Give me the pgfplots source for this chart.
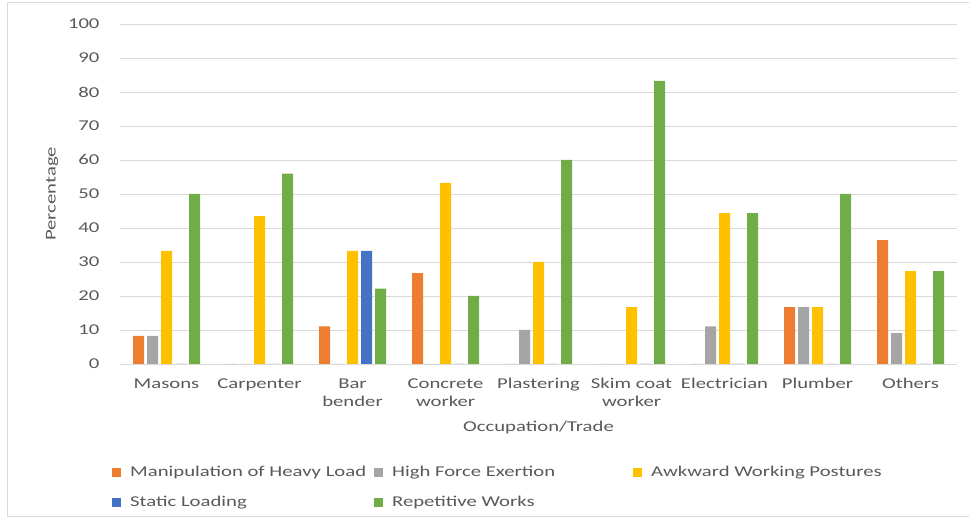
\documentclass[border=0pt]{standalone}
\usepackage{pgfplots}
\pgfplotsset{compat=1.18}
\usepackage{fontspec}
\setmainfont[FakeStretch=1.38]{Carlito}
\definecolor{cOr}{HTML}{ED7D31}
\definecolor{cGr}{HTML}{A5A5A5}
\definecolor{cYe}{HTML}{FFC000}
\definecolor{cBl}{HTML}{4472C4}
\definecolor{cGn}{HTML}{70AD47}
\definecolor{txt}{HTML}{595959}
\definecolor{grid}{HTML}{D9D9D9}
\newcommand{\fs}{\fontsize{15bp}{18bp}\selectfont}
\begin{document}
\begin{tikzpicture}[x=1bp,y=1bp]
\useasboundingbox (0,0) rectangle (969,519);
\draw[color=grid, line width=0.75bp] (990,517) -- (7,517) -- (7,3) -- (990,3);
\begin{axis}[
  at={(120bp,155bp)}, anchor=south west,
  scale only axis, width=837bp, height=340bp,
  ymin=0, ymax=100, ytick={0,10,...,100},
  xmin=-0.5, xmax=8.5, xtick={0,...,8},
  xticklabels={Masons, Carpenter, Bar\\bender, Concrete\\worker, Plastering, Skim coat\\worker, Electrician, Plumber, Others},
  ybar=3bp, bar width=11bp,
  axis x line=bottom, axis y line=left,
  x axis line style={-, color=grid, line width=0.75bp},
  y axis line style={draw=none},
  ymajorgrids, grid style={color=grid, line width=0.75bp},
  major tick length=0pt, tick style={draw=none},
  /pgf/number format/assume math mode=true,
  yticklabel style={font=\fs, text=txt, anchor=east, xshift=-17bp},
  xticklabel style={font=\fs, text=txt, align=center, anchor=north, yshift=-11bp},
  ylabel={Percentage},
  every axis y label/.style={at={(rel axis cs:0,0.5)}, xshift=-68bp, rotate=90, anchor=center, font=\fs, text=txt},
  xlabel={Occupation/Trade},
  every axis x label/.style={at={(rel axis cs:0.5,0)}, anchor=center, yshift=-64bp, font=\fs, text=txt},
  legend columns=3,
  legend style={at={(rel axis cs:-0.0096,-0.30)}, anchor=north west, draw=none, fill=none,
    font=\fs, text=txt, inner sep=0pt, row sep=18bp, column sep=0pt,
    nodes={inner sep=0pt, anchor=west}},
  legend cell align=left,
]
\addplot+[draw=none, fill=cOr, legend image code/.code={\fill[cOr] (0,-4.5bp) rectangle (9bp,4.5bp);}]
  coordinates {(0,8.3) (1,0) (2,11.1) (3,26.7) (4,0) (5,0) (6,0) (7,16.7) (8,36.4)};
\addplot+[draw=none, fill=cGr, legend image code/.code={\fill[cGr] (0,-4.5bp) rectangle (9bp,4.5bp);}]
  coordinates {(0,8.3) (1,0) (2,0) (3,0) (4,10) (5,0) (6,11.1) (7,16.7) (8,9.1)};
\addplot+[draw=none, fill=cYe, legend image code/.code={\fill[cYe] (0,-4.5bp) rectangle (9bp,4.5bp);}]
  coordinates {(0,33.3) (1,43.5) (2,33.3) (3,53.3) (4,30) (5,16.7) (6,44.4) (7,16.7) (8,27.3)};
\addplot+[draw=none, fill=cBl, legend image code/.code={\fill[cBl] (0,-4.5bp) rectangle (9bp,4.5bp);}]
  coordinates {(0,0) (1,0) (2,33.3) (3,0) (4,0) (5,0) (6,0) (7,0) (8,0)};
\addplot+[draw=none, fill=cGn, legend image code/.code={\fill[cGn] (0,-4.5bp) rectangle (9bp,4.5bp);}]
  coordinates {(0,50) (1,56) (2,22.2) (3,20) (4,60) (5,83.3) (6,44.4) (7,50) (8,27.3)};
\legend{\makebox[253bp][l]{\hspace{9bp}Manipulation of Heavy Load},
        \makebox[250bp][l]{\hspace{9bp}High Force Exertion},
        \hspace{9bp}Awkward Working Postures,
        \makebox[253bp][l]{\hspace{9bp}Static Loading},
        \makebox[250bp][l]{\hspace{9bp}Repetitive Works}}
\end{axis}
\end{tikzpicture}
\end{document}
